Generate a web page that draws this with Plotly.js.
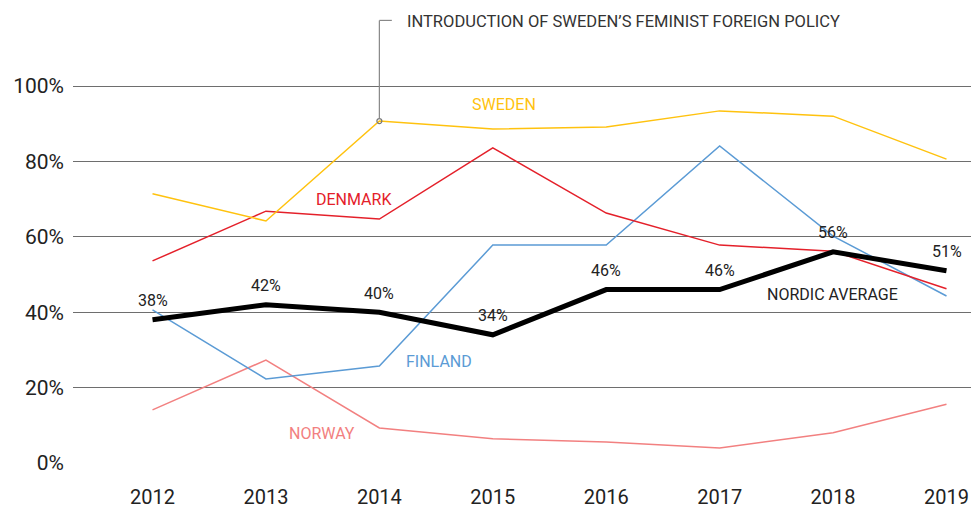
<!DOCTYPE html>
<html><head><meta charset="utf-8">
<script src="https://cdn.plot.ly/plotly-3.0.1.min.js"></script>
<style>body{margin:0;background:#fff}#c{width:971px;height:508px}</style>
</head><body><div id="c"></div>
<script>
const years = ['2012','2013','2014','2015','2016','2017','2018','2019'];
const sweden  = [71.4, 64.2, 90.7, 88.6, 89.1, 93.4, 92.0, 80.6];
const denmark = [53.6, 66.8, 64.7, 83.6, 66.3, 57.8, 56.2, 46.2];
const finland = [40.6, 22.3, 25.7, 57.8, 57.8, 84.1, 60.2, 44.3];
const norway  = [14.1, 27.3, 9.3, 6.4, 5.6, 4.0, 8.0, 15.6];
const nordicAvg = [38, 42, 40, 34, 46, 46, 56, 51];
const yTicks = [0, 20, 40, 60, 80, 100];
const policyYear = '2014';
const policyText = 'INTRODUCTION OF SWEDEN\u2019S FEMINIST FOREIGN POLICY';

const FONT = 'Roboto, "DejaVu Sans", sans-serif';
const colors = {sweden:'#FFC20E', denmark:'#E4202A', finland:'#5B9BD5', norway:'#F28080', avg:'#000000'};

const line = (y, c, w) => ({x: years, y: y, type:'scatter', mode:'lines', line:{color:c, width:w}, hoverinfo:'skip', cliponaxis:false});
const pIdx = years.indexOf(policyYear);
const traces = [
  line(norway, colors.norway, 1.5),
  line(finland, colors.finland, 1.5),
  line(denmark, colors.denmark, 1.5),
  line(sweden, colors.sweden, 1.5),
  line(nordicAvg, colors.avg, 5),
  {x:[policyYear], y:[sweden[pIdx]], type:'scatter', mode:'markers',
   marker:{symbol:'circle-open', size:5, color:'#777', line:{width:1.2, color:'#777'}}, hoverinfo:'skip'}
];

const annotations = nordicAvg.map((v,i)=>({xref:'x', yref:'y', x: i, y: v, text: v+'%', showarrow:false,
  yshift: 19, font:{family:FONT, size:16, color:'#222'}}));
const seriesLabel = (t, x, y, c) => ({xref:'paper', yref:'paper', x:x, y:y, text:t, showarrow:false,
  xanchor:'center', yanchor:'middle', font:{family:FONT, size:16, color:c}});
const px = v => (v-73)/898, py = v => (463-v)/453;
annotations.push(seriesLabel('SWEDEN', px(504), py(105), colors.sweden));
annotations.push(seriesLabel('DENMARK', px(354), py(199), colors.denmark));
annotations.push(seriesLabel('FINLAND', px(439), py(361), colors.finland));
annotations.push(seriesLabel('NORWAY', px(322), py(433), colors.norway));
annotations.push(seriesLabel('NORDIC AVERAGE', px(832), py(294), '#222'));
annotations.push({xref:'paper', yref:'paper', x:px(405), y:py(21), text:policyText, showarrow:false,
  xanchor:'left', yanchor:'middle', font:{family:FONT, size:16.5, color:'#333'}});

const layout = {
  width:971, height:508,
  margin:{l:73, r:0, t:10, b:45},
  paper_bgcolor:'#fff', plot_bgcolor:'#fff',
  showlegend:false,
  xaxis:{type:'category', range:[-0.701, 7.216], showgrid:false, zeroline:false, showline:false,
    ticks:'', ticklabelstandoff:20, tickfont:{family:FONT, size:20, color:'#222'}, fixedrange:true},
  yaxis:{range:[0, 120.16], tickvals:yTicks, ticktext:yTicks.map(v=>v+'%'), showgrid:true,
    gridcolor:'#6e6e6e', gridwidth:1, zeroline:false, showline:false, ticks:'', ticklabelstandoff:8,
    tickfont:{family:FONT, size:21, color:'#222'}, fixedrange:true},
  shapes:[
    {type:'line', xref:'x', yref:'y', x0:pIdx, x1:pIdx, y0:sweden[pIdx]+0.6, y1:117.4,
     line:{color:'#888', width:1.2}},
    {type:'line', xref:'x', yref:'y', x0:pIdx, x1:pIdx+0.11, y0:117.4, y1:117.4,
     line:{color:'#888', width:1.2}}
  ],
  annotations: annotations
};
Plotly.newPlot('c', traces, layout, {staticPlot:true, displayModeBar:false});
</script></body></html>
